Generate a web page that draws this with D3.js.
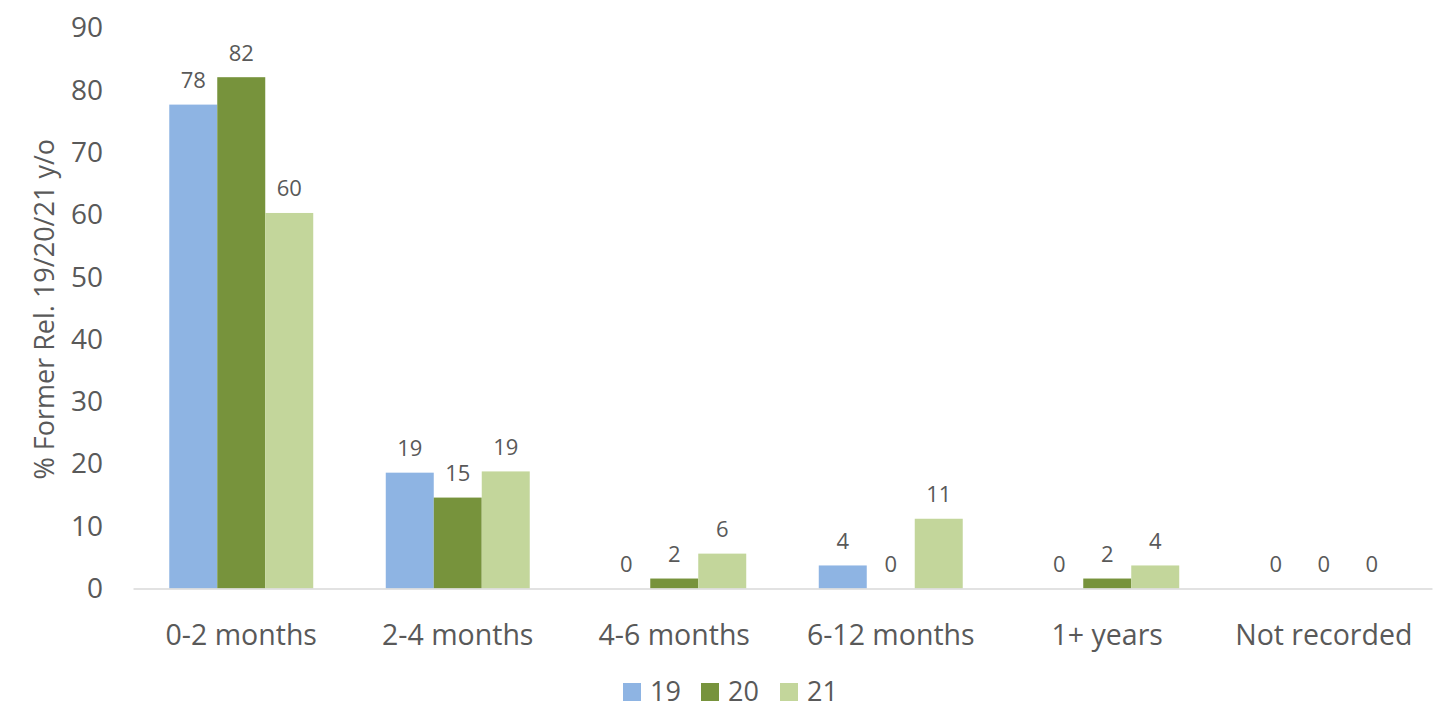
<!DOCTYPE html>
<html>
<head>
<meta charset="utf-8">
<script src="https://cdn.jsdelivr.net/npm/d3@7"></script>
<style>
  html, body { margin: 0; padding: 0; background: #fff; }
  svg { display: block; }
  text { font-family: "Open Sans", "Noto Sans", sans-serif; fill: #595959; }
</style>
</head>
<body>
<svg id="chart" width="1452" height="708"></svg>
<script>
const categories = ["0-2 months", "2-4 months", "4-6 months", "6-12 months", "1+ years", "Not recorded"];
const seriesNames = ["19", "20", "21"];
const values19 = [77.7, 18.6, 0, 3.7, 0, 0];
const values20 = [82.1, 14.6, 1.6, 0, 1.6, 0];
const values21 = [60.3, 18.8, 5.6, 11.2, 3.7, 0];
const yTicks = [0, 10, 20, 30, 40, 50, 60, 70, 80, 90];
const colors = ["#8EB4E3", "#77933C", "#C3D69B"];
const yTitle = "% Former Rel. 19/20/21 y/o";

const seriesValues = [values19, values20, values21];

const svg = d3.select("#chart");
const plotLeft = 133, plotRight = 1432, plotTop = 28, plotBottom = 588.5;

const x = d3.scaleBand().domain(categories).range([plotLeft, plotRight])
  .paddingInner(0.335).paddingOuter(0.1675);
const xs = d3.scaleBand().domain(seriesNames).range([0, x.bandwidth()]).padding(0);
const y = d3.scaleLinear().domain([0, 90]).range([plotBottom, plotTop]);

// Y axis tick labels
const yAxis = d3.axisLeft(y).tickValues(yTicks).tickSize(0).tickPadding(0);
const gy = svg.append("g").attr("transform", `translate(103,0)`).call(yAxis);
gy.select(".domain").remove();
gy.selectAll("text").style("font-size", "28px").attr("fill", "#595959")
  .style("font-family", '"Open Sans", sans-serif');

// bars
const groups = svg.append("g").selectAll("g").data(categories).join("g")
  .attr("transform", d => `translate(${x(d)},0)`);

groups.each(function(cat, ci) {
  const g = d3.select(this);
  seriesNames.forEach((s, si) => {
    const v = seriesValues[si][ci];
    if (v > 0) {
      g.append("rect")
        .attr("x", xs(s))
        .attr("y", y(v))
        .attr("width", xs.bandwidth())
        .attr("height", y(0) - y(v))
        .attr("fill", colors[si]);
    }
    g.append("text")
      .attr("x", xs(s) + xs.bandwidth() / 2)
      .attr("y", y(v) - 16.5)
      .attr("text-anchor", "middle")
      .style("font-size", "22px")
      .text(d3.format(".0f")(v));
  });
});

// X axis
const xAxis = d3.axisBottom(x).tickSize(0).tickPadding(0);
const gx = svg.append("g").attr("transform", `translate(0,${plotBottom})`).call(xAxis);
gx.select(".domain").attr("stroke", "#D9D9D9").attr("stroke-width", 1.5);
gx.selectAll("text").style("font-size", "28.5px").attr("fill", "#595959")
  .style("font-family", '"Open Sans", sans-serif')
  .attr("dy", null).attr("y", 56);

// Y title
svg.append("text")
  .attr("transform", `translate(54,${(plotTop + plotBottom) / 2 + 1}) rotate(-90)`)
  .attr("text-anchor", "middle")
  .style("font-size", "27px")
  .text(yTitle);

// Legend
const legendX = [623, 701, 780];
const lg = svg.append("g").selectAll("g").data(seriesNames).join("g")
  .attr("transform", (d, i) => `translate(${legendX[i]},683)`);
lg.append("rect").attr("width", 18).attr("height", 18).attr("fill", (d, i) => colors[i]);
lg.append("text").attr("x", 27).attr("y", 18).style("font-size", "27px").text(d => d);
</script>
</body>
</html>
